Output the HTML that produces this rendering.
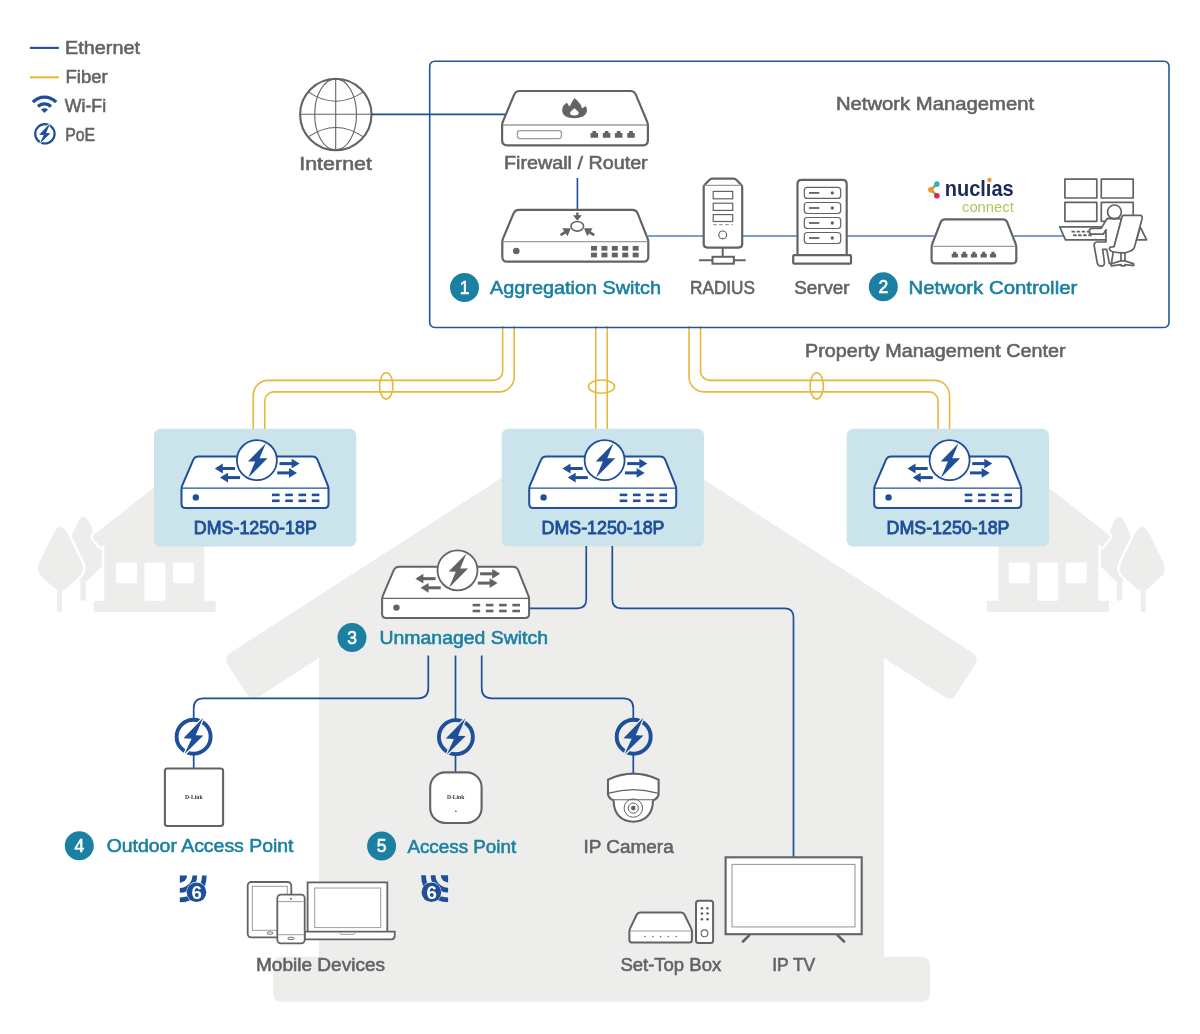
<!DOCTYPE html><html><head><meta charset="utf-8"><style>html,body{margin:0;padding:0;background:#fff;width:1200px;height:1034px;overflow:hidden}svg{display:block;font-family:"Liberation Sans",sans-serif}svg{will-change:transform}</style></head><body>
<svg width="1200" height="1034" viewBox="0 0 1200 1034">
<defs>
<g id="poe"><circle cx="0" cy="0" r="17" fill="none" stroke="#1e4f98" stroke-width="3.9"/><polygon points="9.6,-18.9 2.1,-1.4 9.8,-1.1 -9.2,17.6 -2.0,2.0 -10.2,1.5" fill="#1e4f98" stroke="var(--bg)" stroke-width="2.6" stroke-linejoin="miter" paint-order="stroke"/></g>
<g id="dms"><path d="M39.03,31.28Q40.60,27.60 44.60,27.60L158.25,27.60Q162.25,27.60 163.74,31.31L173.76,56.34Q174.50,58.20 174.50,60.20L174.50,74.90Q174.50,78.90 170.50,78.90L31.50,78.90Q27.50,78.90 27.50,74.90L27.50,60.20Q27.50,58.20 28.29,56.36Z" fill="#fff" stroke="#1e4f98" stroke-width="2"/><line x1="28" y1="59.1" x2="174" y2="59.1" stroke="#1e4f98" stroke-width="1.2"/><circle cx="41.85" cy="68.4" r="3.2" fill="#1e4f98"/><rect x="118.00" y="64.60000000000001" width="7.6" height="2.6" fill="#1e4f98"/><rect x="118.00" y="70.5" width="7.6" height="2.6" fill="#1e4f98"/><rect x="131.25" y="64.60000000000001" width="7.6" height="2.6" fill="#1e4f98"/><rect x="131.25" y="70.5" width="7.6" height="2.6" fill="#1e4f98"/><rect x="144.50" y="64.60000000000001" width="7.6" height="2.6" fill="#1e4f98"/><rect x="144.50" y="70.5" width="7.6" height="2.6" fill="#1e4f98"/><rect x="157.75" y="64.60000000000001" width="7.6" height="2.6" fill="#1e4f98"/><rect x="157.75" y="70.5" width="7.6" height="2.6" fill="#1e4f98"/><line x1="81" y1="39.5" x2="68.3" y2="39.5" stroke="#1e4f98" stroke-width="3"/><polygon points="60.8,39.5 68.8,34.6 68.8,44.4" fill="#1e4f98"/><line x1="86.1" y1="48.6" x2="73.5" y2="48.6" stroke="#1e4f98" stroke-width="3"/><polygon points="66,48.6 74,43.7 74,53.5" fill="#1e4f98"/><line x1="125.5" y1="34.6" x2="138.1" y2="34.6" stroke="#1e4f98" stroke-width="3"/><polygon points="145.6,34.6 137.6,29.700000000000003 137.6,39.5" fill="#1e4f98"/><line x1="123.2" y1="43.9" x2="135.5" y2="43.9" stroke="#1e4f98" stroke-width="3"/><polygon points="143,43.9 135,39.0 135,48.8" fill="#1e4f98"/><circle cx="102.9" cy="31.15" r="20" fill="#fff" stroke="#1e4f98" stroke-width="1.8"/><polygon points="111.85,14.25 105.56,29.24 113.5,29.3 94.2,48.8 101.2,32.6 94,32.4" fill="#1e4f98"/></g>
<g id="ums"><path d="M39.03,31.28Q40.60,27.60 44.60,27.60L158.25,27.60Q162.25,27.60 163.74,31.31L173.76,56.34Q174.50,58.20 174.50,60.20L174.50,74.90Q174.50,78.90 170.50,78.90L31.50,78.90Q27.50,78.90 27.50,74.90L27.50,60.20Q27.50,58.20 28.29,56.36Z" fill="#fff" stroke="#636363" stroke-width="2"/><line x1="28" y1="59.1" x2="174" y2="59.1" stroke="#636363" stroke-width="1.2"/><circle cx="41.85" cy="68.4" r="3.2" fill="#636363"/><rect x="118.00" y="64.60000000000001" width="7.6" height="2.6" fill="#636363"/><rect x="118.00" y="70.5" width="7.6" height="2.6" fill="#636363"/><rect x="131.25" y="64.60000000000001" width="7.6" height="2.6" fill="#636363"/><rect x="131.25" y="70.5" width="7.6" height="2.6" fill="#636363"/><rect x="144.50" y="64.60000000000001" width="7.6" height="2.6" fill="#636363"/><rect x="144.50" y="70.5" width="7.6" height="2.6" fill="#636363"/><rect x="157.75" y="64.60000000000001" width="7.6" height="2.6" fill="#636363"/><rect x="157.75" y="70.5" width="7.6" height="2.6" fill="#636363"/><line x1="81" y1="39.5" x2="68.3" y2="39.5" stroke="#636363" stroke-width="3"/><polygon points="60.8,39.5 68.8,34.6 68.8,44.4" fill="#636363"/><line x1="86.1" y1="48.6" x2="73.5" y2="48.6" stroke="#636363" stroke-width="3"/><polygon points="66,48.6 74,43.7 74,53.5" fill="#636363"/><line x1="125.5" y1="34.6" x2="138.1" y2="34.6" stroke="#636363" stroke-width="3"/><polygon points="145.6,34.6 137.6,29.700000000000003 137.6,39.5" fill="#636363"/><line x1="123.2" y1="43.9" x2="135.5" y2="43.9" stroke="#636363" stroke-width="3"/><polygon points="143,43.9 135,39.0 135,48.8" fill="#636363"/><circle cx="102.9" cy="31.15" r="20" fill="#fff" stroke="#636363" stroke-width="1.8"/><polygon points="111.85,14.25 105.56,29.24 113.5,29.3 94.2,48.8 101.2,32.6 94,32.4" fill="#636363"/></g>
</defs>
<path d="M542.67,451.44Q601.50,413.50 660.33,451.44L972.14,652.52Q979.70,657.40 974.83,664.97L955.73,694.67Q951.40,701.40 944.67,697.07L884.00,658.00L884.00,960.00L319.00,960.00L319.00,658.00L258.33,697.07Q251.60,701.40 247.27,694.67L228.17,664.97Q223.30,657.40 230.86,652.52Z" fill="#ededec"/>
<rect x="273" y="956.7" width="657" height="45" rx="8" fill="#ededec"/>
<g><path d="M76.73,524.59Q83.50,509.00 90.27,524.59L102.92,553.74Q106.50,562.00 100.14,568.36L89.86,578.64Q83.50,585.00 77.14,578.64L66.86,568.36Q60.50,562.00 64.08,553.74Z" fill="#ededec"/><rect x="80.4" y="575" width="5.4" height="25.6" fill="#ededec"/><path d="M52.61,535.18Q60.50,519.00 68.39,535.18L81.66,562.41Q85.60,570.50 79.03,576.65L67.07,587.85Q60.50,594.00 53.93,587.85L41.97,576.65Q35.40,570.50 39.34,562.41Z" fill="#ededec" stroke="#fff" stroke-width="5" paint-order="stroke"/><rect x="57.1" y="590" width="5" height="22" fill="#ededec"/><path d="M93.85,538.66Q92.00,536.30 94.37,534.46L154.35,487.70L214.33,534.46Q216.70,536.30 214.85,538.66L209.33,545.72Q208.10,547.30 206.51,546.08L204.20,544.30L204.20,601.00L104.50,601.00L104.50,544.30L102.19,546.08Q100.60,547.30 99.37,545.72Z" fill="#ededec" stroke="#fff" stroke-width="5" paint-order="stroke"/><path d="M93.85,538.66Q92.00,536.30 94.37,534.46L154.35,487.70L214.33,534.46Q216.70,536.30 214.85,538.66L209.33,545.72Q208.10,547.30 206.51,546.08L204.20,544.30L204.20,601.00L104.50,601.00L104.50,544.30L102.19,546.08Q100.60,547.30 99.37,545.72Z" fill="#ededec"/><rect x="93.6" y="600.8" width="122.2" height="11.2" rx="2" fill="#ededec"/><rect x="116" y="562.6" width="21" height="20.6" rx="1.5" fill="#fff"/><rect x="144.4" y="562.6" width="21" height="38.2" rx="1.5" fill="#fff"/><rect x="173" y="562.6" width="21" height="20.6" rx="1.5" fill="#fff"/></g>
<g transform="translate(1202.7,0) scale(-1,1)"><path d="M76.73,524.59Q83.50,509.00 90.27,524.59L102.92,553.74Q106.50,562.00 100.14,568.36L89.86,578.64Q83.50,585.00 77.14,578.64L66.86,568.36Q60.50,562.00 64.08,553.74Z" fill="#ededec"/><rect x="80.4" y="575" width="5.4" height="25.6" fill="#ededec"/><path d="M52.61,535.18Q60.50,519.00 68.39,535.18L81.66,562.41Q85.60,570.50 79.03,576.65L67.07,587.85Q60.50,594.00 53.93,587.85L41.97,576.65Q35.40,570.50 39.34,562.41Z" fill="#ededec" stroke="#fff" stroke-width="5" paint-order="stroke"/><rect x="57.1" y="590" width="5" height="22" fill="#ededec"/><path d="M93.85,538.66Q92.00,536.30 94.37,534.46L154.35,487.70L214.33,534.46Q216.70,536.30 214.85,538.66L209.33,545.72Q208.10,547.30 206.51,546.08L204.20,544.30L204.20,601.00L104.50,601.00L104.50,544.30L102.19,546.08Q100.60,547.30 99.37,545.72Z" fill="#ededec" stroke="#fff" stroke-width="5" paint-order="stroke"/><path d="M93.85,538.66Q92.00,536.30 94.37,534.46L154.35,487.70L214.33,534.46Q216.70,536.30 214.85,538.66L209.33,545.72Q208.10,547.30 206.51,546.08L204.20,544.30L204.20,601.00L104.50,601.00L104.50,544.30L102.19,546.08Q100.60,547.30 99.37,545.72Z" fill="#ededec"/><rect x="93.6" y="600.8" width="122.2" height="11.2" rx="2" fill="#ededec"/><rect x="116" y="562.6" width="21" height="20.6" rx="1.5" fill="#fff"/><rect x="144.4" y="562.6" width="21" height="38.2" rx="1.5" fill="#fff"/><rect x="173" y="562.6" width="21" height="20.6" rx="1.5" fill="#fff"/></g>
<path d="M502.65,326 L502.65,371.25 A9.1,9.1 0 0 1 493.55,380.35 L268.15,380.35 A14.9,14.9 0 0 0 253.25,395.25 L253.25,430" fill="none" stroke="#e6b93c" stroke-width="1.6"/>
<path d="M514.15,326 L514.15,376.95 A14.9,14.9 0 0 1 499.25,391.85 L273.85,391.85 A9.1,9.1 0 0 0 264.75,400.95 L264.75,430" fill="none" stroke="#e6b93c" stroke-width="1.6"/>
<path d="M595.75,326 L595.75,430" fill="none" stroke="#e6b93c" stroke-width="1.6"/>
<path d="M607.25,326 L607.25,430" fill="none" stroke="#e6b93c" stroke-width="1.6"/>
<path d="M689.05,326 L689.05,376.95 A14.9,14.9 0 0 0 703.95,391.85 L928.95,391.85 A9.1,9.1 0 0 1 938.05,400.95 L938.05,430" fill="none" stroke="#e6b93c" stroke-width="1.6"/>
<path d="M700.55,326 L700.55,371.25 A9.1,9.1 0 0 0 709.65,380.35 L934.65,380.35 A14.9,14.9 0 0 1 949.55,395.25 L949.55,430" fill="none" stroke="#e6b93c" stroke-width="1.6"/>
<ellipse cx="386.25" cy="385.9" rx="6.7" ry="13.2" fill="none" stroke="#e6b93c" stroke-width="1.6"/>
<ellipse cx="601.5" cy="386.6" rx="13.1" ry="6.6" fill="none" stroke="#e6b93c" stroke-width="1.6"/>
<ellipse cx="816.7" cy="385.9" rx="6.7" ry="13.2" fill="none" stroke="#e6b93c" stroke-width="1.6"/>
<rect x="429.7" y="61.2" width="739.3" height="266.3" rx="5" fill="none" stroke="#24559e" stroke-width="1.6"/>
<rect x="154" y="428.8" width="202.3" height="117.8" rx="6.5" fill="#cbe3eb"/>
<use href="#dms" x="154" y="0" transform="translate(0,429)"/>
<text x="193.8" y="533.8" font-size="17.5" fill="#1e4f98" stroke="#1e4f98" stroke-width="0.85" font-weight="400" textLength="123" lengthAdjust="spacingAndGlyphs">DMS-1250-18P</text>
<rect x="501.7" y="428.8" width="202.3" height="117.8" rx="6.5" fill="#cbe3eb"/>
<use href="#dms" x="501.7" y="0" transform="translate(0,429)"/>
<text x="541.5" y="533.8" font-size="17.5" fill="#1e4f98" stroke="#1e4f98" stroke-width="0.85" font-weight="400" textLength="123" lengthAdjust="spacingAndGlyphs">DMS-1250-18P</text>
<rect x="846.7" y="428.8" width="202.3" height="117.8" rx="6.5" fill="#cbe3eb"/>
<use href="#dms" x="846.7" y="0" transform="translate(0,429)"/>
<text x="886.5" y="533.8" font-size="17.5" fill="#1e4f98" stroke="#1e4f98" stroke-width="0.85" font-weight="400" textLength="123" lengthAdjust="spacingAndGlyphs">DMS-1250-18P</text>
<line x1="29.9" y1="47.9" x2="58.9" y2="47.9" stroke="#1e4f98" stroke-width="2.1"/>
<line x1="29.9" y1="77.3" x2="58.9" y2="77.3" stroke="#e6b93c" stroke-width="2.1"/>
<path d="M32.87,102.16 A15.9,15.9 0 0 1 56.13,102.16" fill="none" stroke="#1e4f98" stroke-width="3.4"/>
<path d="M38.07,106.57 A9.1,9.1 0 0 1 50.93,106.57" fill="none" stroke="#1e4f98" stroke-width="3.3"/>
<path d="M44.5,113 L41,109.6 A4.9,4.9 0 0 1 48,109.6 Z" fill="#1e4f98"/>
<g transform="translate(44.9,133.8) scale(0.57)" style="--bg:#fff"><use href="#poe"/></g>
<g fill="none" stroke="#636363">
<circle cx="335.8" cy="114.4" r="35.7" stroke-width="2.1"/>
<line x1="335.7" y1="79" x2="335.7" y2="150" stroke-width="1.1"/>
<line x1="300" y1="114.2" x2="371.5" y2="114.2" stroke-width="1.1"/>
<ellipse cx="335.6" cy="114.4" rx="20.9" ry="35.5" stroke-width="1.1"/>
<path d="M308.2,91.9 Q335.8,110.6 363.4,91.9" stroke-width="1.1"/>
<path d="M308.2,136.9 Q335.8,118.1 363.4,136.9" stroke-width="1.1"/>
</g>
<line x1="372" y1="114.4" x2="506" y2="114.4" stroke="#1e4f98" stroke-width="1.6"/>
<line x1="577.4" y1="178" x2="577.4" y2="210" stroke="#1e4f98" stroke-width="1.6"/>
<path d="M648,236 H704 M742,236 H798 M846,236 H934 M1014,236 H1064" stroke="#7b9dc7" stroke-width="2" fill="none"/>
<path d="M514.16,94.69Q515.70,91.00 519.70,91.00L630.30,91.00Q634.30,91.00 635.84,94.69L647.13,121.66Q647.90,123.50 647.90,125.50L647.90,140.30Q647.90,145.30 642.90,145.30L507.10,145.30Q502.10,145.30 502.10,140.30L502.10,125.50Q502.10,123.50 502.87,121.66Z" fill="#fff" stroke="#636363" stroke-width="2.2"/>
<line x1="503" y1="125" x2="647" y2="125" stroke="#9c9c9c" stroke-width="1.3"/>
<rect x="517.4" y="130.7" width="44" height="7.9" rx="2.5" fill="none" stroke="#9c9c9c" stroke-width="1.3"/>
<path d="M590.55,137.70 V133.00 H592.42 V131.00 H596.17 V133.00 H598.05 V137.70 Z" fill="#636363"/>
<path d="M602.85,137.70 V133.00 H604.73 V131.00 H608.48 V133.00 H610.35 V137.70 Z" fill="#636363"/>
<path d="M614.95,137.70 V133.00 H616.83 V131.00 H620.58 V133.00 H622.45 V137.70 Z" fill="#636363"/>
<path d="M627.25,137.70 V133.00 H629.12 V131.00 H632.88 V133.00 H634.75 V137.70 Z" fill="#636363"/>
<path d="M574.7,97.9 C577.5,101 581.5,104 582,108.5 C583.5,107.5 585,106.5 585.7,106.3 C588.5,110 587.5,118.2 574.5,118.2 C561,118.2 561,110 563.5,105.5 C565,104 566.5,103 567,102.8 C568,105 569,106 570,106.5 C571,103 573,100 574.7,97.9 Z" fill="#636363"/>
<path d="M574.5,108.3 C576.5,110 578.7,111.5 578.7,113 C578.7,114.7 576.8,115.5 574.4,115.5 C572,115.5 570,114.7 570,113 C570,111.5 572.5,110 574.5,108.3Z" fill="#fff"/>
<path d="M513.46,213.59Q515.00,209.90 519.00,209.90L632.30,209.90Q636.30,209.90 637.77,213.62L647.57,238.44Q648.30,240.30 648.30,242.30L648.30,256.70Q648.30,261.70 643.30,261.70L507.30,261.70Q502.30,261.70 502.30,256.70L502.30,242.30Q502.30,240.30 503.07,238.45Z" fill="#fff" stroke="#636363" stroke-width="2.2"/>
<line x1="503" y1="241.7" x2="647.5" y2="241.7" stroke="#9c9c9c" stroke-width="1.3"/>
<circle cx="516.3" cy="251" r="3.3" fill="#636363"/>
<rect x="591.00" y="245.95000000000002" width="6" height="4.7" fill="#636363"/>
<rect x="591.00" y="252.65" width="6" height="4.7" fill="#636363"/>
<rect x="601.42" y="245.95000000000002" width="6" height="4.7" fill="#636363"/>
<rect x="601.42" y="252.65" width="6" height="4.7" fill="#636363"/>
<rect x="611.84" y="245.95000000000002" width="6" height="4.7" fill="#636363"/>
<rect x="611.84" y="252.65" width="6" height="4.7" fill="#636363"/>
<rect x="622.26" y="245.95000000000002" width="6" height="4.7" fill="#636363"/>
<rect x="622.26" y="252.65" width="6" height="4.7" fill="#636363"/>
<rect x="632.68" y="245.95000000000002" width="6" height="4.7" fill="#636363"/>
<rect x="632.68" y="252.65" width="6" height="4.7" fill="#636363"/>
<ellipse cx="577.3" cy="226.3" rx="6.3" ry="4.8" fill="none" stroke="#636363" stroke-width="1.6"/>
<line x1="577.4" y1="212.5" x2="577.4" y2="216.5" stroke="#636363" stroke-width="2.4"/><polygon points="572.9,215.3 581.9,215.3 577.4,220.8" fill="#636363"/>
<line x1="560.6" y1="235.2" x2="565.25" y2="232.05" stroke="#636363" stroke-width="2.6"/>
<polygon points="570.8,228.3 567.53,236.31 562.15,228.36" fill="#636363"/>
<line x1="594.2" y1="235.2" x2="589.55" y2="232.05" stroke="#636363" stroke-width="2.6"/>
<polygon points="584.0,228.3 592.65,228.36 587.27,236.31" fill="#636363"/>
<path d="M709.12,180.14Q710.50,178.70 712.50,178.70L733.40,178.70Q735.40,178.70 736.78,180.14L741.16,184.72Q742.20,185.80 742.20,187.30L742.20,244.10Q742.20,247.60 738.70,247.60L707.20,247.60Q703.70,247.60 703.70,244.10L703.70,187.30Q703.70,185.80 704.74,184.72Z" fill="#fff" stroke="#636363" stroke-width="2.2"/>
<line x1="704.5" y1="185.4" x2="741.5" y2="185.4" stroke="#9c9c9c" stroke-width="1.2"/>
<rect x="713.2" y="191.4" width="19.5" height="7.4" fill="none" stroke="#636363" stroke-width="1.2"/>
<rect x="713.2" y="203.2" width="19.5" height="7.2" fill="none" stroke="#636363" stroke-width="1.2"/>
<rect x="713.2" y="214.6" width="19.5" height="6.9" fill="none" stroke="#636363" stroke-width="1.2"/>
<line x1="713.2" y1="224.6" x2="732.7" y2="224.6" stroke="#9c9c9c" stroke-width="1.2" stroke-dasharray="3.6 2.4"/>
<circle cx="722.7" cy="234.9" r="3.9" fill="none" stroke="#636363" stroke-width="1.2"/>
<line x1="722.7" y1="247.6" x2="722.7" y2="256.8" stroke="#636363" stroke-width="2"/>
<rect x="712.5" y="256.8" width="21.3" height="6.9" fill="#fff" stroke="#636363" stroke-width="2"/>
<path d="M699,260.2 H712.5 M733.8,260.2 H745.7" stroke="#636363" stroke-width="2"/>
<path d="M797.5,255.5 V184 Q797.5,179.8 801.7,179.8 H842.5 Q846.7,179.8 846.7,184 V255.5" fill="#fff" stroke="#636363" stroke-width="2.2"/>
<rect x="793.2" y="255.2" width="57.8" height="8.5" rx="1" fill="#fff" stroke="#636363" stroke-width="2.2"/>
<rect x="804.3" y="187.4" width="36.4" height="11" rx="3" fill="none" stroke="#636363" stroke-width="1.2"/>
<line x1="809" y1="192.9" x2="819.3" y2="192.9" stroke="#636363" stroke-width="1.8"/>
<circle cx="832.3" cy="192.9" r="1.7" fill="#636363"/>
<rect x="804.3" y="202.5" width="36.4" height="11" rx="3" fill="none" stroke="#636363" stroke-width="1.2"/>
<line x1="809" y1="208.0" x2="819.3" y2="208.0" stroke="#636363" stroke-width="1.8"/>
<circle cx="832.3" cy="208.0" r="1.7" fill="#636363"/>
<rect x="804.3" y="217.5" width="36.4" height="11" rx="3" fill="none" stroke="#636363" stroke-width="1.2"/>
<line x1="809" y1="223.0" x2="819.3" y2="223.0" stroke="#636363" stroke-width="1.8"/>
<circle cx="832.3" cy="223.0" r="1.7" fill="#636363"/>
<rect x="804.3" y="232.5" width="36.4" height="11" rx="3" fill="none" stroke="#636363" stroke-width="1.2"/>
<line x1="809" y1="238.0" x2="819.3" y2="238.0" stroke="#636363" stroke-width="1.8"/>
<circle cx="832.3" cy="238.0" r="1.7" fill="#636363"/>
<path d="M940.71,222.10Q941.80,219.30 944.80,219.30L1003.10,219.30Q1006.10,219.30 1007.19,222.10L1015.57,243.64Q1016.30,245.50 1016.30,247.50L1016.30,259.40Q1016.30,263.40 1012.30,263.40L935.60,263.40Q931.60,263.40 931.60,259.40L931.60,247.50Q931.60,245.50 932.33,243.64Z" fill="#fff" stroke="#636363" stroke-width="2.2"/>
<line x1="932.5" y1="246.4" x2="1015.5" y2="246.4" stroke="#9c9c9c" stroke-width="1.2"/>
<path d="M951.70,257.60 V253.80 H953.25 V251.80 H956.35 V253.80 H957.90 V257.60 Z" fill="#636363"/>
<path d="M961.20,257.60 V253.80 H962.75 V251.80 H965.85 V253.80 H967.40 V257.60 Z" fill="#636363"/>
<path d="M970.90,257.60 V253.80 H972.45 V251.80 H975.55 V253.80 H977.10 V257.60 Z" fill="#636363"/>
<path d="M980.60,257.60 V253.80 H982.15 V251.80 H985.25 V253.80 H986.80 V257.60 Z" fill="#636363"/>
<path d="M989.90,257.60 V253.80 H991.45 V251.80 H994.55 V253.80 H996.10 V257.60 Z" fill="#636363"/>
<path d="M936.9,184.3 L930.8,189.8 L936.9,195.6" fill="none" stroke="#8dbb3f" stroke-width="2.6"/>
<circle cx="936.9" cy="184.1" r="2.8" fill="#2ab0d8"/><circle cx="930.9" cy="189.8" r="2.8" fill="#f0962a"/><circle cx="936.9" cy="195.7" r="2.8" fill="#e0245e"/>
<text x="944.7" y="196.1" font-size="22.5" font-weight="700" fill="#1b2a5c" textLength="69" lengthAdjust="spacingAndGlyphs">nuclıas</text>
<circle cx="989.5" cy="180" r="2.2" fill="#f0962a"/>
<text x="962" y="211.6" font-size="14.8" fill="#a8ca5c" textLength="51.8" lengthAdjust="spacingAndGlyphs">connect</text>
<g fill="#fff" stroke="#636363" stroke-width="1.7" stroke-linejoin="round">
<rect x="1064.9" y="179.1" width="31.9" height="18.9"/>
<rect x="1101.3" y="179.1" width="31.9" height="18.9"/>
<rect x="1064.9" y="202.4" width="31.9" height="18.9"/>
<rect x="1101.3" y="202.4" width="31.9" height="18.9"/>
<polygon points="1140.2,227 1146.6,239.8 1136.7,239.8"/>
<polygon points="1059.7,226.9 1107,226.9 1107,239.8 1065.5,239.8"/>
<path d="M1107.3,218.3 L1101.2,228.4 H1091.4 Q1089.2,228.8 1089.3,231.6 Q1089.5,234 1092,234.2 H1103.3 L1106,229.8 V242 H1096.8 Q1094,242.3 1094.1,245.6 L1097.3,263 Q1098.2,266.2 1101,266.2 Q1104.6,266 1104.4,262.3 L1102.6,249.4 H1106.7 L1109.4,263.6 L1111.4,263.6 L1114.1,246.7 L1121.6,218.6 H1118.2 Z"/>
<circle cx="1114.45" cy="211.9" r="6.9"/>
<path d="M1110.3,218.4 H1118.6" stroke-width="1.5"/>
<path d="M1121,252.5 V261 M1125,252.5 V261" fill="none"/>
<path d="M1111.2,263.8 L1121,260.9 H1125 L1133.7,263.9 V265.6 L1124.8,264.6 V265.8 H1121.2 V264.6 L1111.2,265.8 Z"/>
<path d="M1123.6,215.4 H1140.3 Q1142.6,215.6 1142.2,218.2 L1134.5,247 Q1133.5,250 1130,251.2 Q1126,252.8 1122.9,252.8 Q1114,252.5 1111,251 Q1109,249.8 1109.4,248.2 Q1109.8,247 1112,246.8 L1114.1,246.7 L1121.6,218.6 Q1122,215.6 1123.6,215.4 Z"/>
</g>
<polygon points="1071.3,230.7 1074.7,230.7 1075.2,232.6 1071.8,232.6" fill="#636363"/>
<polygon points="1076.4,230.7 1079.8000000000002,230.7 1080.3000000000002,232.6 1076.9,232.6" fill="#636363"/>
<polygon points="1081.4,230.7 1084.8000000000002,230.7 1085.3000000000002,232.6 1081.9,232.6" fill="#636363"/>
<polygon points="1086.5,230.7 1089.9,230.7 1090.4,232.6 1087.0,232.6" fill="#636363"/>
<polygon points="1072.9,234.3 1076.3000000000002,234.3 1076.8000000000002,236.20000000000002 1073.4,236.20000000000002" fill="#636363"/>
<polygon points="1077.9,234.3 1081.3000000000002,234.3 1081.8000000000002,236.20000000000002 1078.4,236.20000000000002" fill="#636363"/>
<polygon points="1083,234.3 1086.4,234.3 1086.9,236.20000000000002 1083.5,236.20000000000002" fill="#636363"/>
<polygon points="1088,234.3 1091.4,234.3 1091.9,236.20000000000002 1088.5,236.20000000000002" fill="#636363"/>
<circle cx="464.5" cy="287.5" r="14.5" fill="#1b80a2"/>
<text x="464.5" y="293.8" font-size="17.5" fill="#fff" stroke="#fff" stroke-width="0.6" text-anchor="middle">1</text>
<text x="490" y="294.2" font-size="17.5" fill="#1b80a2" stroke="#1b80a2" stroke-width="0.55" font-weight="400" textLength="171" lengthAdjust="spacingAndGlyphs">Aggregation Switch</text>
<text x="690" y="294.3" font-size="17.5" fill="#636363" stroke="#636363" stroke-width="0.55" font-weight="400" textLength="65" lengthAdjust="spacingAndGlyphs">RADIUS</text>
<text x="794.2" y="294.2" font-size="17.5" fill="#636363" stroke="#636363" stroke-width="0.55" font-weight="400" textLength="55.3" lengthAdjust="spacingAndGlyphs">Server</text>
<circle cx="883.3" cy="286.8" r="14.5" fill="#1b80a2"/>
<text x="883.3" y="293.1" font-size="17.5" fill="#fff" stroke="#fff" stroke-width="0.6" text-anchor="middle">2</text>
<text x="908.5" y="294.3" font-size="17.5" fill="#1b80a2" stroke="#1b80a2" stroke-width="0.55" font-weight="400" textLength="168.8" lengthAdjust="spacingAndGlyphs">Network Controller</text>
<text x="835.9" y="109.6" font-size="17.5" fill="#636363" stroke="#636363" stroke-width="0.55" font-weight="400" textLength="198.2" lengthAdjust="spacingAndGlyphs">Network Management</text>
<text x="504" y="169.3" font-size="17.5" fill="#636363" stroke="#636363" stroke-width="0.55" font-weight="400" textLength="143.7" lengthAdjust="spacingAndGlyphs">Firewall / Router</text>
<text x="299.2" y="169.8" font-size="17.5" fill="#636363" stroke="#636363" stroke-width="0.55" font-weight="400" textLength="72.8" lengthAdjust="spacingAndGlyphs">Internet</text>
<text x="805" y="357" font-size="17.5" fill="#636363" stroke="#636363" stroke-width="0.55" font-weight="400" textLength="260.5" lengthAdjust="spacingAndGlyphs">Property Management Center</text>
<text x="65.0" y="54.0" font-size="17.5" fill="#636363" stroke="#636363" stroke-width="0.55" font-weight="400" textLength="75" lengthAdjust="spacingAndGlyphs">Ethernet</text>
<text x="65.5" y="83.3" font-size="17.5" fill="#636363" stroke="#636363" stroke-width="0.55" font-weight="400" textLength="42.2" lengthAdjust="spacingAndGlyphs">Fiber</text>
<text x="64.7" y="111.7" font-size="17.5" fill="#636363" stroke="#636363" stroke-width="0.55" font-weight="400" textLength="41.4" lengthAdjust="spacingAndGlyphs">Wi-Fi</text>
<text x="65.2" y="140.8" font-size="17.5" fill="#636363" stroke="#636363" stroke-width="0.55" font-weight="400" textLength="30" lengthAdjust="spacingAndGlyphs">PoE</text>
<path d="M586.25,546 V599.3 Q586.25,608.3 577.25,608.3 H528 M612.3,546 V599.3 Q612.3,608.3 621.3,608.3 H784.5 Q793.5,608.3 793.5,617.3 V858" fill="none" stroke="#1e4f98" stroke-width="1.7"/>
<path d="M428.3,655.4 V688.3 Q428.3,698.3 418.3,698.3 H203.7 Q193.7,698.3 193.7,708.3 V720 M193.7,754 V769 M455.5,655.4 V720 M455.5,754 V773 M481.7,655.4 V688.3 Q481.7,698.3 491.7,698.3 H623.3 Q633.3,698.3 633.3,708.3 V720 M633.3,754 V774" fill="none" stroke="#1e4f98" stroke-width="1.7"/>
<use href="#ums" transform="translate(354.6,539.2)"/>
<circle cx="352" cy="637.6" r="14.5" fill="#1b80a2"/>
<text x="352" y="643.9" font-size="17.5" fill="#fff" stroke="#fff" stroke-width="0.6" text-anchor="middle">3</text>
<text x="379.5" y="644" font-size="17.5" fill="#1b80a2" stroke="#1b80a2" stroke-width="0.55" font-weight="400" textLength="168.5" lengthAdjust="spacingAndGlyphs">Unmanaged Switch</text>
<g transform="translate(193.6,736.7)" style="--bg:#fff"><use href="#poe"/></g>
<g transform="translate(455.9,737.1)" style="--bg:#ededec"><use href="#poe"/></g>
<g transform="translate(633.7,736.7)" style="--bg:#ededec"><use href="#poe"/></g>
<rect x="164.9" y="768.5" width="58.2" height="57.5" rx="2.5" fill="#fff" stroke="#636363" stroke-width="2.1"/>
<text x="193.8" y="799.3" font-family="Liberation Serif" font-size="5.6" font-weight="700" fill="#333" text-anchor="middle">D-Link</text>
<rect x="430.2" y="772.4" width="51.4" height="50.6" rx="15" fill="#fff" stroke="#636363" stroke-width="2.1"/>
<text x="455.6" y="798.6" font-family="Liberation Serif" font-size="5.6" font-weight="700" fill="#333" text-anchor="middle">D-Link</text>
<circle cx="455.9" cy="811.3" r="0.8" fill="#333"/>
<path d="M608,779.7 Q633.3,767.5 658.6,779.7 V794 Q658.6,797 655,799.5 L652.5,800.3 H614 L611.6,799.5 Q608,797 608,794 Z" fill="#fff" stroke="#636363" stroke-width="2.1"/>
<path d="M609,793.2 Q633.3,786 657.6,793.2" fill="none" stroke="#636363" stroke-width="1.3"/>
<path d="M613.6,800.3 C613.6,814.5 622,821.7 633.3,821.7 C644.6,821.7 653,814.5 653,800.3" fill="#fff" stroke="#636363" stroke-width="2.1"/>
<circle cx="633.3" cy="808.1" r="9.2" fill="none" stroke="#636363" stroke-width="1"/><circle cx="633.3" cy="808.1" r="5.1" fill="none" stroke="#636363" stroke-width="1"/><circle cx="633.3" cy="808.1" r="2.3" fill="#636363"/>
<circle cx="79.3" cy="845.7" r="14.5" fill="#1b80a2"/>
<text x="79.3" y="852.0" font-size="17.5" fill="#fff" stroke="#fff" stroke-width="0.6" text-anchor="middle">4</text>
<text x="106.7" y="852.2" font-size="17.5" fill="#1b80a2" stroke="#1b80a2" stroke-width="0.55" font-weight="400" textLength="186.8" lengthAdjust="spacingAndGlyphs">Outdoor Access Point</text>
<circle cx="381.6" cy="846.1" r="14.5" fill="#1b80a2"/>
<text x="381.6" y="852.4" font-size="17.5" fill="#fff" stroke="#fff" stroke-width="0.6" text-anchor="middle">5</text>
<text x="407.4" y="852.5" font-size="17.5" fill="#1b80a2" stroke="#1b80a2" stroke-width="0.55" font-weight="400" textLength="108.8" lengthAdjust="spacingAndGlyphs">Access Point</text>
<text x="583.5" y="852.5" font-size="17.5" fill="#636363" stroke="#636363" stroke-width="0.55" font-weight="400" textLength="90.2" lengthAdjust="spacingAndGlyphs">IP Camera</text>
<clipPath id="wc179"><rect x="179.8" y="875.4" width="27" height="27"/></clipPath>
<g clip-path="url(#wc179)" fill="#1e4f98">
<circle cx="179.8" cy="875.4" r="7.3"/>
<circle cx="179.8" cy="875.4" r="15" fill="none" stroke="#1e4f98" stroke-width="4.8"/>
<circle cx="179.8" cy="875.4" r="24.6" fill="none" stroke="#1e4f98" stroke-width="4.8"/>
</g>
<circle cx="196.5" cy="892.2" r="9.8" fill="#1e4f98" stroke="#fff" stroke-width="1.1" paint-order="stroke"/>
<text x="196.7" y="899.3000000000001" font-size="17.5" font-weight="700" fill="#fff" text-anchor="middle" textLength="10.4" lengthAdjust="spacingAndGlyphs">6</text>
<clipPath id="wc448"><rect x="421.1" y="875.2" width="27" height="27"/></clipPath>
<g clip-path="url(#wc448)" fill="#1e4f98">
<circle cx="448.1" cy="875.2" r="7.3"/>
<circle cx="448.1" cy="875.2" r="15" fill="none" stroke="#1e4f98" stroke-width="4.8"/>
<circle cx="448.1" cy="875.2" r="24.6" fill="none" stroke="#1e4f98" stroke-width="4.8"/>
</g>
<circle cx="431.4" cy="892.2" r="9.8" fill="#1e4f98" stroke="#ededec" stroke-width="1.1" paint-order="stroke"/>
<text x="431.59999999999997" y="899.3000000000001" font-size="17.5" font-weight="700" fill="#fff" text-anchor="middle" textLength="10.4" lengthAdjust="spacingAndGlyphs">6</text>
<g fill="#fff" stroke="#636363">
<rect x="247.7" y="882" width="43.6" height="55.3" rx="3.5" stroke-width="1.8"/>
<rect x="252.3" y="886.3" width="35" height="44" stroke-width="1" stroke="#9c9c9c" fill="none"/>
<rect x="267.3" y="932" width="5.4" height="2.2" rx="1" stroke-width="0.9" fill="none"/>
<rect x="307.6" y="882.4" width="79.7" height="49.6" stroke-width="1.8"/>
<rect x="314.7" y="888" width="66" height="39.6" stroke-width="1" stroke="#9c9c9c" fill="none"/>
<path d="M304.7,931.7 H394.7 V936 Q394.7,939.3 391.4,939.3 H304.7 Z" stroke-width="1.8"/>
<path d="M339.5,932.5 L341,934.4 H354 L355.5,932.5" stroke-width="1" stroke="#9c9c9c" fill="none"/>
<rect x="277.3" y="894.7" width="27.4" height="48.6" rx="3.5" stroke-width="1.8"/>
<path d="M278.2,901.6 H303.8 M278.2,934.7 H303.8" stroke-width="1" stroke="#9c9c9c"/>
<rect x="288" y="937.3" width="6" height="2.2" rx="1" stroke-width="0.9" fill="none"/>
</g>
<circle cx="290.9" cy="898.7" r="1" fill="#636363"/>
<text x="256" y="971" font-size="17.5" fill="#636363" stroke="#636363" stroke-width="0.55" font-weight="400" textLength="129" lengthAdjust="spacingAndGlyphs">Mobile Devices</text>
<path d="M636.63,914.76Q637.70,912.50 640.20,912.50L681.00,912.50Q683.50,912.50 684.58,914.75L691.25,928.65Q691.90,930.00 691.90,931.50L691.90,940.00Q691.90,942.50 689.40,942.50L631.90,942.50Q629.40,942.50 629.40,940.00L629.40,931.50Q629.40,930.00 630.04,928.64Z" fill="#fff" stroke="#636363" stroke-width="2"/>
<line x1="630.3" y1="931" x2="691" y2="931" stroke="#9c9c9c" stroke-width="1.1"/>
<circle cx="645" cy="936.5" r="0.8" fill="#636363"/>
<circle cx="652.9" cy="936.5" r="0.8" fill="#636363"/>
<circle cx="660.6" cy="936.5" r="0.8" fill="#636363"/>
<circle cx="668.3" cy="936.5" r="0.8" fill="#636363"/>
<circle cx="676.25" cy="936.5" r="0.8" fill="#636363"/>
<rect x="696" y="900.8" width="17.1" height="42.3" rx="2.5" fill="#fff" stroke="#636363" stroke-width="2"/>
<circle cx="701.9" cy="908.3" r="1.3" fill="#636363"/>
<circle cx="701.9" cy="913.5" r="1.3" fill="#636363"/>
<circle cx="701.9" cy="919.2" r="1.3" fill="#636363"/>
<circle cx="707.5" cy="908.3" r="1.3" fill="#636363"/>
<circle cx="707.5" cy="913.5" r="1.3" fill="#636363"/>
<circle cx="707.5" cy="919.2" r="1.3" fill="#636363"/>
<circle cx="704.5" cy="933.3" r="3.4" fill="none" stroke="#636363" stroke-width="1.1"/>
<rect x="725.6" y="857.3" width="136.1" height="76.9" fill="#fff" stroke="#636363" stroke-width="2.1"/>
<rect x="732" y="864.4" width="123" height="62.5" fill="none" stroke="#9c9c9c" stroke-width="1.1"/>
<path d="M749.2,935.4 L743,941.5 M837.7,935.4 L844,941.5" stroke="#636363" stroke-width="2.6" stroke-linecap="round"/>
<text x="620.4" y="971" font-size="17.5" fill="#636363" stroke="#636363" stroke-width="0.55" font-weight="400" textLength="100.8" lengthAdjust="spacingAndGlyphs">Set-Top Box</text>
<text x="772.2" y="971" font-size="17.5" fill="#636363" stroke="#636363" stroke-width="0.55" font-weight="400" textLength="43" lengthAdjust="spacingAndGlyphs">IP TV</text>
</svg></body></html>
